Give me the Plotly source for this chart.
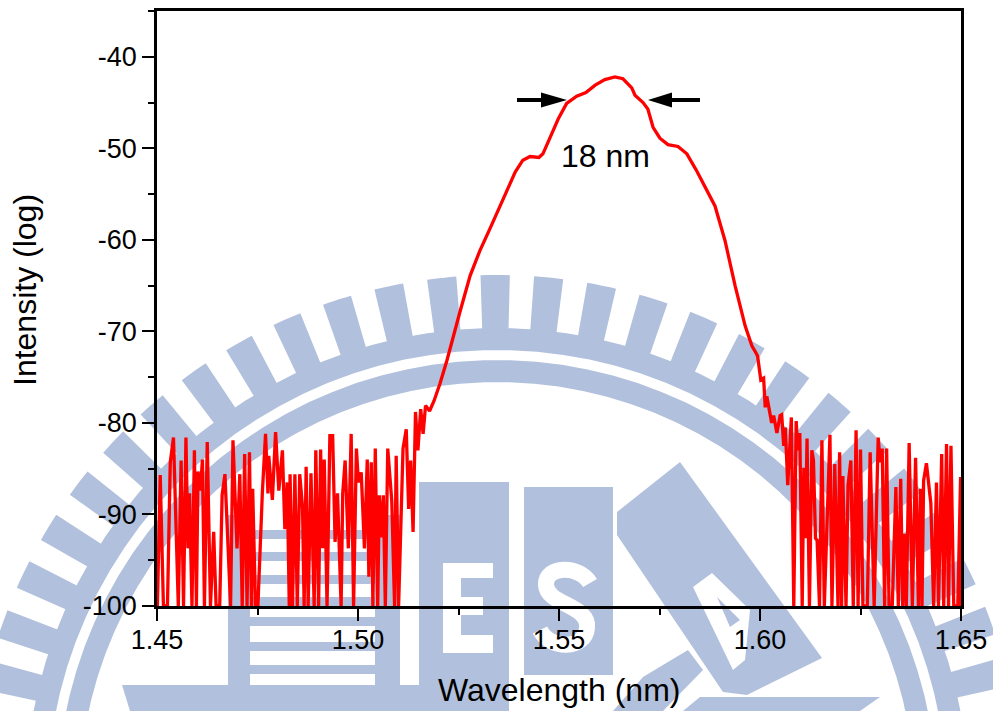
import numpy as np
import plotly.graph_objects as go

# ---- data ----
wavelength = [
1.4501,1.4508,1.4516,1.4526,1.4533,1.4541,1.4553,1.4560,1.4566,1.4572,1.4577,1.4581,1.4587,1.4593,1.4598,1.4602,1.4608,1.4613,1.4618,1.4625,
1.4633,1.4641,1.4647,1.4656,1.4662,1.4669,1.4683,1.4689,1.4699,1.4706,1.4712,1.4718,1.4724,1.4730,1.4735,1.4738,1.4745,1.4751,1.4762,1.4770,
1.4776,1.4778,1.4787,1.4795,1.4803,1.4812,1.4818,1.4824,1.4829,1.4831,1.4837,1.4843,1.4849,1.4855,1.4862,1.4866,1.4871,1.4876,1.4883,1.4891,
1.4895,1.4902,1.4907,1.4912,1.4916,1.4923,1.4930,1.4937,1.4943,1.4949,1.4958,1.4962,1.4968,1.4976,1.4983,1.4989,1.4996,1.5001,1.5008,1.5016,
1.5023,1.5027,1.5033,1.5037,1.5043,1.5049,1.5053,1.5058,1.5063,1.5068,1.5074,1.5084,1.5091,1.5095,1.5101,1.5112,1.5120,1.5126,1.5131,1.5137,
1.5143,1.5149,1.5156,1.5162,1.5168,1.5178,1.5189,
1.5204,1.5221,1.5234,1.5254,1.5279,1.5303,1.5328,1.5353,1.5370,1.5391,1.5410,1.5428,1.5450,1.5460,1.5478,1.5498,1.5519,1.5544,1.5567,1.5590,
1.5614,1.5639,1.5659,1.5681,1.5689,1.5709,1.5721,1.5734,1.5751,1.5771,1.5796,1.5818,1.5843,1.5868,1.5888,1.5913,1.5938,1.5963,1.5980,
1.5988,1.5994,1.6002,1.6009,1.6013,1.6017,1.6029,1.6034,1.6042,1.6050,1.6054,1.6059,1.6063,1.6069,1.6078,1.6084,1.6090,1.6094,1.6099,1.6105,
1.6109,1.6113,1.6117,1.6123,1.6129,1.6133,1.6138,1.6142,1.6148,1.6154,1.6160,1.6165,1.6174,1.6179,1.6186,1.6194,1.6198,1.6203,1.6206,1.6214,
1.6219,1.6226,1.6232,1.6239,1.6244,1.6250,1.6256,1.6267,1.6274,1.6284,1.6294,1.6299,1.6304,1.6310,1.6315,1.6321,1.6329,1.6338,1.6344,1.6350,
1.6355,1.6359,1.6364,1.6371,1.6379,1.6387,1.6394,1.6399,1.6403,1.6407,1.6414,1.6425,1.6432,1.6439,1.6444,1.6452,1.6457,1.6464,1.6469,1.6475,
1.6482,1.6492,1.6499,1.6500]
intensity = [
-100,-85.7,-100,-100,-84.3,-81.6,-100,-84.1,-100,-81.6,-93.7,-87.7,-100,-83.0,-100,-85.3,-87.4,-84.0,-100,-82.1,
-100,-91.9,-100,-100,-87.9,-85.6,-100,-81.9,-93.7,-85.6,-100,-83.4,-100,-83.2,-100,-87.2,-100,-100,-87.7,-81.2,
-87.7,-83.6,-88.4,-81.0,-87.4,-83.0,-91.6,-86.5,-100,-85.6,-100,-85.6,-100,-85.6,-89.2,-100,-84.8,-100,-85.5,-100,
-83.0,-100,-82.9,-93.7,-84.0,-100,-81.4,-81.4,-93.0,-87.7,-100,-87.7,-84.1,-93.7,-81.2,-100,-82.8,-86.5,-85.4,-93.7,
-84.0,-96.8,-84.3,-100,-82.8,-100,-87.9,-92.5,-87.9,-100,-82.8,-88.5,-100,-83.6,-100,-82.8,-80.7,-89.4,-84.1,-91.9,
-78.8,-83.0,-78.5,-81.2,-78.1,-78.7,-77.6,
-75.7,-73.2,-71.0,-67.8,-63.9,-61.2,-58.8,-56.3,-54.6,-52.6,-51.3,-50.9,-51.0,-50.6,-48.8,-46.8,-45.1,-44.3,-43.9,-43.1,
-42.5,-42.2,-42.4,-43.4,-44.2,-45.0,-45.7,-47.7,-48.9,-49.6,-49.8,-50.6,-52.5,-54.6,-56.3,-60.1,-65.0,-69.4,-71.6,
-72.2,-72.7,-75.3,-75.1,-78.3,-77.1,-80.0,-79.2,-81.1,-79.2,-79.1,-82.5,-80.5,-86.8,-79.4,-100,-79.8,-83.0,-81.1,-100,
-84.9,-92.6,-81.7,-100,-83.0,-84.1,-92.6,-92.8,-100,-81.9,-100,-93.4,-81.3,-100,-84.5,-100,-83.2,-100,-85.8,-100,
-86.8,-84.1,-100,-80.8,-100,-82.9,-100,-100,-83.2,-100,-81.6,-84.3,-82.8,-100,-82.8,-100,-100,-87.0,-100,-86.1,
-100,-92.1,-100,-82.2,-100,-83.8,-100,-87.2,-100,-86.3,-84.4,-88.8,-100,-86.5,-100,-83.4,-100,-82.3,-100,-82.5,
-100,-100,-85.9,-100]

x_major = [1.45, 1.50, 1.55, 1.60, 1.65]
x_labels = ["1.45", "1.50", "1.55", "1.60", "1.65"]
x_minor = [1.475, 1.525, 1.575, 1.625]
y_major = [-100, -90, -80, -70, -60, -50, -40]
y_labels = ["-100", "-90", "-80", "-70", "-60", "-50", "-40"]
y_minor = [-95, -85, -75, -65, -55, -45, -35]

W, H = 993, 711
L, R, T, B = 157, 32, 11, 105
PW, PH = W - L - R, H - T - B
FONT = "Liberation Sans, Arial, sans-serif"
BLUE = "#b1c0dc"

def px(x, y):
    return (x - L) / PW, (H - B - y) / PH

def pathstr(points):
    out = []
    for i, (x, y) in enumerate(points):
        a, b = px(x, y)
        out.append(("M" if i == 0 else "L") + f"{a:.5f},{b:.5f}")
    return " ".join(out) + " Z"

def poly(points, color=BLUE, layer="below"):
    return dict(type="path", xref="paper", yref="paper", path=pathstr(points),
                fillcolor=color, line=dict(width=0), layer=layer)

def rect(x0, y0, x1, y1, color=BLUE):
    return poly([(x0, y0), (x1, y0), (x1, y1), (x0, y1)], color)

CX, CY = 497, 800

def sector(r0, r1, a0, a1, n=60):
    angs = np.radians(np.linspace(a0, a1, n))
    outer = [(CX + r1 * np.sin(a), CY - r1 * np.cos(a)) for a in angs]
    inner = [(CX + r0 * np.sin(a), CY - r0 * np.cos(a)) for a in angs[::-1]]
    return poly(outer + inner)

shapes = []
# watermark: rings and radial bars
shapes.append(sector(418, 440, -100, 100))
shapes.append(sector(450, 472, -100, 100))
for k in range(-17, 18):
    a = -0.2 + 5.85 * k
    shapes.append(sector(468, 525, a - 1.6, a + 1.6, 6))
# watermark: book on the left
shapes.append(rect(228, 515, 250, 690))
shapes.append(rect(375, 515, 400, 690))
for y0 in [530, 552, 575, 597, 617, 642, 665]:
    shapes.append(rect(250, y0, 375, y0 + 9))
shapes.append(poly([(122, 685), (509, 685), (509, 711), (130, 711)]))
# watermark: E block
shapes.append(rect(419, 482, 509, 711))
shapes.append(rect(443, 563, 493, 653, "white"))
shapes.append(rect(461, 578, 493, 635))
shapes.append(rect(461, 597, 483, 615, "white"))
# watermark: S block
shapes.append(rect(524, 487, 613, 675))
sp = [(590, 583), (580, 565), (545, 565), (546, 585), (547, 605), (590, 605), (587, 628), (585, 650), (550, 650), (540, 630)]
sp_s = [px(*p) for p in sp]
d = f"M{sp_s[0][0]:.5f},{sp_s[0][1]:.5f}"
for i in range(1, len(sp_s), 3):
    d += " C" + " ".join(f"{a:.5f},{b:.5f}" for a, b in sp_s[i:i + 3])
shapes.append(dict(type="path", xref="paper", yref="paper", path=d, layer="below",
                   line=dict(color="white", width=16), fillcolor="rgba(0,0,0,0)"))
# watermark: A block
shapes.append(poly([(680, 462), (822, 658), (747, 695), (723, 692), (617, 535), (617, 512)]))
shapes.append(poly([(693, 587), (712, 573), (750, 610), (745, 660), (733, 670)], "white"))
shapes.append(poly([(717, 597), (740, 620), (730, 627)]))
shapes.append(poly([(688, 650), (703, 670), (663, 711), (613, 711), (643, 677)]))
shapes.append(poly([(700, 697), (880, 697), (860, 711), (683, 711)]))

# width arrows
shapes.append(poly([(517, 98), (543, 98), (543, 102), (517, 102)], "black", "above"))
shapes.append(poly([(541, 92.5), (567, 100), (541, 107.5)], "black", "above"))
shapes.append(poly([(670, 98), (700, 98), (700, 102), (670, 102)], "black", "above"))
shapes.append(poly([(672, 92.5), (648, 100), (672, 107.5)], "black", "above"))

fig = go.Figure(go.Scatter(x=wavelength, y=intensity, mode="lines",
                           line=dict(color="#ff0000", width=3.3),
                           hoverinfo="skip"))

axis_common = dict(showgrid=False, zeroline=False, showline=True, mirror=True,
                   linecolor="black", linewidth=2.5, ticks="outside", tickcolor="black",
                   tickwidth=2, ticklen=12, tickfont=dict(family=FONT, size=27, color="black"))

title_font = dict(family=FONT, size=32, color="black")

fig.update_layout(
    width=W, height=H, margin=dict(l=L, r=R, t=T, b=B, autoexpand=False),
    paper_bgcolor="white", plot_bgcolor="white", showlegend=False, shapes=shapes,
    xaxis=dict(range=[1.45, 1.65], tickmode="array", tickvals=x_major, ticktext=x_labels,
               ticklabelstandoff=-4,
               minor=dict(tickmode="array", tickvals=x_minor, ticks="outside", ticklen=6, tickwidth=2, tickcolor="black"),
               **axis_common),
    yaxis=dict(range=[-100, -35], tickmode="array", tickvals=y_major, ticktext=y_labels,
               minor=dict(tickmode="array", tickvals=y_minor, ticks="outside", ticklen=6, tickwidth=2, tickcolor="black"),
               **axis_common),
    annotations=[
        dict(x=1.5615, y=-50.8, xref="x", yref="y", text="18 nm", showarrow=False, font=title_font),
        dict(x=px(559, 0)[0], y=px(0, 690)[1], xref="paper", yref="paper", text="Wavelength (nm)",
             showarrow=False, font=title_font, xanchor="center", yanchor="middle"),
        dict(x=px(25, 0)[0], y=px(0, 290)[1], xref="paper", yref="paper", text="Intensity (log)",
             showarrow=False, font=title_font, textangle=-90, xanchor="center", yanchor="middle"),
    ],
)

fig.write_html("out.html", post_script="document.body.style.margin='0';",
               config={"displayModeBar": False})
